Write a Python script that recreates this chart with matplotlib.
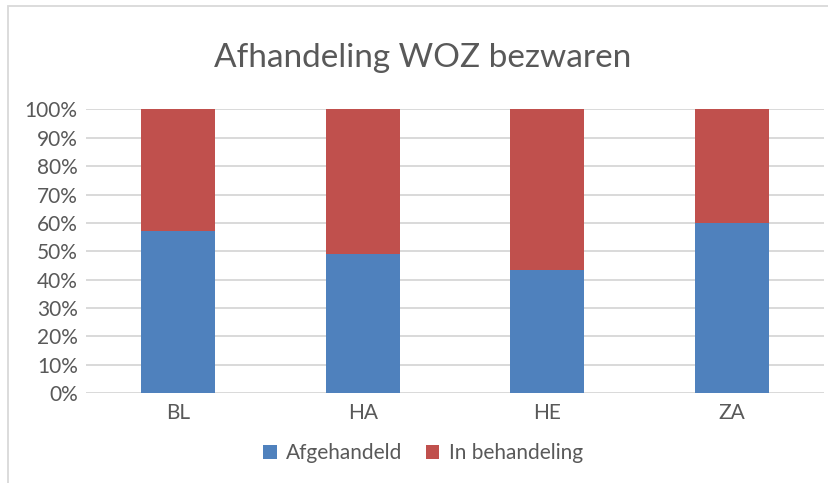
import matplotlib.pyplot as plt
from matplotlib.patches import Rectangle
import numpy as np

# data (aandeel per gebied)
categorieen = ['BL', 'HA', 'HE', 'ZA']
afgehandeld = [57.1, 49.0, 43.4, 60.0]
in_behandeling = [100 - v for v in afgehandeld]

blauw = '#4F81BD'
rood = '#C0504D'
tekst = '#595959'
raster = '#D9D9D9'

plt.rcParams['font.family'] = ['Lato', 'DejaVu Sans']

fig = plt.figure(figsize=(8.29, 4.83), dpi=100)
# rand van het grafiekgebied
fig.patches.append(Rectangle((8 / 829, -0.2), 1.2, 1.2 - 6 / 483,
                             transform=fig.transFigure, fill=False,
                             edgecolor=raster, linewidth=1.3))

ax = fig.add_axes([86 / 829, 90 / 483, 738 / 829, 283.5 / 483])
x = np.arange(len(categorieen))
ax.bar(x, afgehandeld, width=0.4, color=blauw, label='Afgehandeld', zorder=3)
ax.bar(x, in_behandeling, width=0.4, bottom=afgehandeld, color=rood,
       label='In behandeling', zorder=3)

ax.set_xlim(-0.5, len(categorieen) - 0.5)
ax.set_ylim(0, 100)
ax.set_yticks(range(0, 101, 10))
ax.set_yticklabels([f'{v}%' for v in range(0, 101, 10)])
ax.set_xticks(x)
ax.set_xticklabels(categorieen)
ax.grid(axis='y', color=raster, linewidth=1.4, zorder=0)
for s in ax.spines.values():
    s.set_visible(False)
ax.tick_params(axis='both', length=0, colors=tekst, labelsize=15)
ax.tick_params(axis='y', pad=6)
ax.tick_params(axis='x', pad=7)

fig.text(423 / 829, 1 - 58 / 483, 'Afhandeling WOZ bezwaren', ha='center',
         va='center', fontsize=24, color=tekst)

fig.legend(loc='center', bbox_to_anchor=(423 / 829, 1 - 453 / 483), ncol=2,
           frameon=False, fontsize=15, labelcolor=tekst, handlelength=0.65,
           handleheight=0.65, handletextpad=0.45, columnspacing=1.1)

fig.savefig('out.png', dpi=100)
